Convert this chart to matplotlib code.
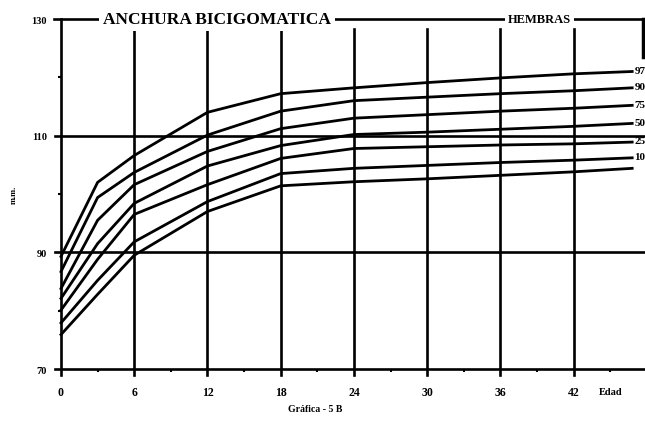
import matplotlib
matplotlib.use("Agg")
import matplotlib.pyplot as plt

plt.rcParams['font.family'] = ['Liberation Serif', 'DejaVu Serif']
plt.rcParams['font.weight'] = 'bold'

# Edad (meses) y percentiles de anchura bicigomática (mm)
ages = [0, 3, 6, 12, 18, 24, 30, 36, 42, 46.8]
p97 = [89.3, 102.0, 106.6, 114.0, 117.2, 118.2, 119.1, 119.9, 120.6, 121.0]
p90 = [86.7, 99.4, 103.7, 110.1, 114.2, 116.0, 116.6, 117.2, 117.7, 118.2]
p75 = [83.8, 95.5, 101.6, 107.3, 111.2, 113.0, 113.6, 114.2, 114.7, 115.2]
p50 = [82.1, 91.5, 98.4, 104.8, 108.3, 110.2, 110.6, 111.1, 111.6, 112.1]
p25 = [80.1, 88.8, 96.5, 101.6, 106.1, 107.8, 108.1, 108.4, 108.6, 108.9]
p10 = [77.9, 85.2, 91.8, 98.7, 103.5, 104.4, 104.9, 105.4, 105.8, 106.2]
p3 = [75.9, 82.8, 89.5, 97.0, 101.4, 102.1, 102.6, 103.2, 103.8, 104.4]
curves = [p97, p90, p75, p50, p25, p10, p3]
curve_labels = ['97', '90', '75', '50', '25', '10', '']

xticks = [0, 6, 12, 18, 24, 30, 36, 42]
yticks = [70, 90, 110, 130]

fig = plt.figure(figsize=(6.45, 4.27), dpi=100)
ax = fig.add_axes([61 / 645, 1 - 370 / 427, 1 - 61 / 645, 350 / 427])
ax.set_xlim(0, 47.85)
ax.set_ylim(70, 130)
for s in ax.spines.values():
    s.set_visible(False)

lw = 1.9
# rejilla
for x in xticks[1:]:
    ax.plot([x, x], [69.0, 128.3], color='black', lw=lw, clip_on=False)
ax.plot([0, 0], [68.9, 130], color='black', lw=lw, clip_on=False)
for y in [70, 90, 110]:
    ax.plot([-0.5, 47.85], [y, y], color='black', lw=lw, clip_on=False)
ax.plot([-0.6, 47.7], [130, 130], color='black', lw=lw, clip_on=False)
ax.plot([47.7, 47.7], [130, 123.5], color='black', lw=lw + 0.6, clip_on=False)

# curvas percentiles
for vals, lab in zip(curves, curve_labels):
    ax.plot(ages, vals, color='black', lw=2.0, solid_joinstyle='miter', clip_on=False)
    if lab:
        ax.text(47.0, vals[-1] + 0.2, lab, fontsize=8, fontweight='bold',
                ha='left', va='center', clip_on=False)

ax.set_xticks(xticks)
ax.set_xticklabels([str(x) for x in xticks], fontsize=8.5, fontweight='bold')
ax.set_yticks(yticks)
ax.set_yticklabels([str(y) for y in yticks], fontsize=7.5, fontweight='bold')
ax.tick_params(axis='x', length=0, pad=12)
ax.tick_params(axis='y', length=0, pad=10)
ax.set_xticks([3, 9, 15, 21, 27, 33, 39, 45], minor=True)
ax.set_yticks([80, 100, 120], minor=True)
ax.tick_params(which='minor', direction='out', length=2.5, width=1.5)

ax.annotate('Edad', xy=(45.0, 70), xytext=(0, -16.5), textcoords='offset points',
            fontsize=7.5, fontweight='bold', ha='center', va='center')

ax.text(12.8, 130, 'ANCHURA BICIGOMATICA', fontsize=12.5, fontweight='bold',
        ha='center', va='center',
        bbox=dict(facecolor='white', edgecolor='none', pad=3))
ax.text(39.2, 130, 'HEMBRAS', fontsize=9, fontweight='bold', ha='center', va='center',
        bbox=dict(facecolor='white', edgecolor='none', pad=2))

fig.text(14 / 645, 1 - 195 / 427, 'm.m.', fontsize=6, fontweight='bold',
         rotation=90, ha='center', va='center')
fig.text(315 / 645, 1 - 410 / 427, 'Gráfica - 5 B', fontsize=7, fontweight='bold',
         ha='center', va='center')

fig.savefig('out.png', dpi=100, facecolor='white')
